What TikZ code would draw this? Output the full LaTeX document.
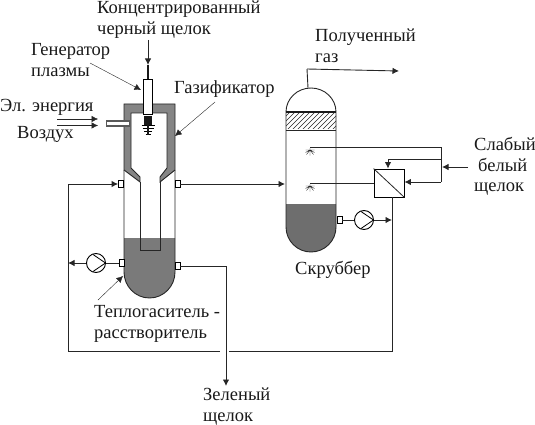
\documentclass[tikz,border=0pt]{standalone}
\usepackage{fontspec}
\setmainfont{Liberation Serif}
\usepackage{tikz}
\usetikzlibrary{arrows.meta,positioning}

\begin{document}
\begin{tikzpicture}[
    x=1pt, y=-1pt,
    >={Latex[length=6.5pt,width=6.5pt]},
    txt/.style={inner sep=0pt, anchor=north west, align=left, font=\fontsize{18.5}{20.7}\selectfont, text=black!90},
    nozzle/.style={draw, fill=white, line width=0.8pt, inner sep=0pt, minimum width=5pt, minimum height=7pt},
    pump/.style={draw, circle, fill=white, line width=0.9pt, inner sep=0pt, minimum size=19pt,
        path picture={\draw[line width=0.8pt] ([shift={(-3pt,8.5pt)}]path picture bounding box.center) -- ([shift={(9.5pt,0pt)}]path picture bounding box.center) -- ([shift={(-3pt,-8.5pt)}]path picture bounding box.center);}},
    filterbox/.style={draw, fill=white, line width=0.9pt, inner sep=0pt, minimum width=30pt, minimum height=28pt},
    flow/.style={->, line width=0.9pt, black!85},
    pipe/.style={line width=0.9pt, black!85},
    lead/.style={->, line width=0.4pt, black!85},
    wall/.style={draw=black!85, line width=0.9pt}
]
\useasboundingbox (0,0) rectangle (535,425);

% Gasifier vessel
\fill[black!52] (124,238) -- (175,238) -- (175,272) arc[start angle=0, end angle=-180, x radius=25.5, y radius=-26] -- cycle;
\draw[wall] (124,170) -- (124,272) arc[start angle=180, end angle=360, x radius=25.5, y radius=-26] -- (175,170);
\draw[wall, fill=black!48] (124,170) -- (124,104) -- (175,104) -- (175,170) -- (160,182) -- (160,177) -- (167,168) -- (167,113) -- (131,113) -- (131,168) -- (140,177) -- (140,182) -- cycle;
\draw[line width=0.9pt, black!85] (140,182) -- (140,250) -- (160,250) -- (160,182);

% Plasma generator
\node[draw, fill=white, line width=0.8pt, inner sep=0pt, minimum width=9.5pt, minimum height=35pt] (plasma) at (148,96.5) {};
\node[fill=black!90, inner sep=0pt, minimum width=8pt, minimum height=9pt] (torch) at (148,120.5) {};
\draw[line width=0.8pt, black] (141.5,125) -- (154.5,125) (142.5,128) -- (153.5,128) (144,131) -- (152,131) (145.5,134) -- (150.5,134);
\draw[line width=2pt, black!90] (148,125) -- (148,135);
\coordinate (feedin) at (148,40);
\coordinate (feedend) at (148,65);
\draw[flow] (feedin) -- (feedend);
\draw[line width=2pt, black!90] (feedend) -- (plasma.north);

% Air tube
\node[draw=black!65, fill=white, line width=1.7pt, inner sep=0pt, minimum width=23pt, minimum height=5.5pt] (airtube) at (118,123.5) {};
\coordinate (elin) at (57,119);
\coordinate (airin) at (57,125.5);
\coordinate (elend) at (98,119);
\coordinate (airend) at (98,125.5);
\draw[flow, line width=0.5pt] (elin) -- (elend);
\draw[flow, line width=0.5pt] (airin) -- (airend);

% Gasifier nozzles
\node[nozzle] (nozA) at (121,184) {};
\node[nozzle] (nozB) at (177.5,184) {};
\node[nozzle] (nozC) at (121.5,263) {};
\node[nozzle] (nozD) at (177.5,266) {};
\node[pump] (pumpA) at (96,263) {};

% Scrubber vessel
\fill[black!57] (286,204) -- (336,204) -- (336,227) arc[start angle=0, end angle=-180, x radius=25, y radius=-25] -- cycle;
\begin{scope}
    \clip (286,113) rectangle (336,129);
    \foreach \h in {0,1,...,12}{
        \draw[line width=0.4pt, black!85] (270+5*\h,132) -- (295+5*\h,107);
    }
\end{scope}
\draw[wall] (286,112) -- (286,227) arc[start angle=180, end angle=360, x radius=25, y radius=-25] -- (336,112);
\draw[wall] (286,112) arc[start angle=180, end angle=0, x radius=25, y radius=-24];
\draw[line width=1.3pt, black!90] (286,112) -- (336,112);
\draw[wall] (286,130) -- (336,130);

% Sprays
\coordinate (sprayA) at (310,147);
\coordinate (sprayB) at (310,183);
\foreach \s in {sprayA,sprayB}{
    \draw[line width=0.4pt, black!85] (\s) ++(0,1) -- ++(0,7.5) (\s) ++(-4.5,3) -- ++(9,0) (\s) ++(-3.5,7.5) -- ++(3.5,-4.5) -- ++(3.5,4.5) (\s) ++(-4.5,5.5) -- ++(4.5,-2.5) -- ++(4.5,2.5);
}

% Filter, scrubber pump
\node[filterbox] (filter) at (389,183) {};
\draw[line width=0.8pt, black!85] (filter.north west) -- (filter.south east);
\node[nozzle] (nozE) at (339.5,220) {};
\node[pump] (pumpB) at (364,220) {};

% Pipes
\coordinate (loopA) at (68,184);
\coordinate (loopB) at (68,263);
\coordinate (loopC) at (68,351);
\coordinate (gapL) at (220,351);
\coordinate (gapR) at (229,351);
\coordinate (filterdown) at (392,351);
\coordinate (scrubin) at (285,184);
\coordinate (greenturn) at (226,266);
\coordinate (greenend) at (226,386);
\coordinate (gasup) at (308,88);
\coordinate (gasturn) at (307,69);
\coordinate (gasend) at (399,71);
\coordinate (whitein) at (468,167);
\coordinate (whitemid) at (442,167);
\coordinate (rightA) at (441,147);
\coordinate (rightB) at (441,182);
\coordinate (rightC) at (441,159);
\coordinate (turnC) at (388,159);
\coordinate (pumpjoin) at (392,220);

\draw[flow] (loopA) -- (nozA.west);
\draw[pipe] (loopA) -- (loopC) -- (gapL);
\draw[pipe] (gapR) -- (filterdown) -- (filterdown |- filter.south);
\draw[flow] (nozB.east) -- (scrubin);
\draw[pipe] (nozC.west) -- (pumpA.east);
\draw[flow] (pumpA.west) -- (loopB);
\draw[pipe] (nozD.east) -- (greenturn);
\draw[flow] (greenturn) -- (greenend);
\draw[pipe] (gasup) -- (gasturn);
\draw[flow] (gasturn) -- (gasend);
\draw[flow] (whitein) -- (whitemid);
\draw[pipe] (sprayA) -- (rightA) -- (rightB);
\draw[flow] (rightB) -- (filter.east |- rightB);
\draw[pipe] (rightC) -- (turnC);
\draw[flow] (turnC) -- (filter.north -| turnC);
\draw[pipe] (sprayB) -- (filter.west |- sprayB);
\draw[pipe] (nozE.east) -- (pumpB.west);
\draw[flow] (pumpB.east) -- (pumpjoin);

% Leaders
\coordinate (leadA) at (90,63);
\coordinate (tipA) at (141,90);
\coordinate (leadB) at (215,102);
\coordinate (tipB) at (175,136);
\coordinate (leadC) at (98,300);
\coordinate (tipC) at (123,276);
\draw[lead] (leadA) -- (tipA);
\draw[lead] (leadB) -- (tipB);
\draw[lead] (leadC) -- (tipC);

% Labels
\node[txt] (lblfeed) at (97,1) {Концентрированный\\черный щелок};
\node[txt] (lblplasma) at (31,43) {Генератор\\плазмы};
\node[txt] (lblel) at (0,99) {Эл. энергия};
\node[txt] (lblair) at (17,126) {Воздух};
\node[txt] (lblgasif) at (174,80) {Газификатор};
\node[txt] (lblgas) at (315,29) {Полученный\\газ};
\node[txt] (lblwhite) at (474,137) {Слабый\\\hspace*{4pt}белый\\щелок};
\node[txt] (lblscrub) at (295,261) {Скруббер};
\node[txt] (lblquench) at (94,305) {Теплогаситель -\\расстворитель};
\node[txt] (lblgreen) at (203,388) {Зеленый\\щелок};

\end{tikzpicture}
\end{document}
